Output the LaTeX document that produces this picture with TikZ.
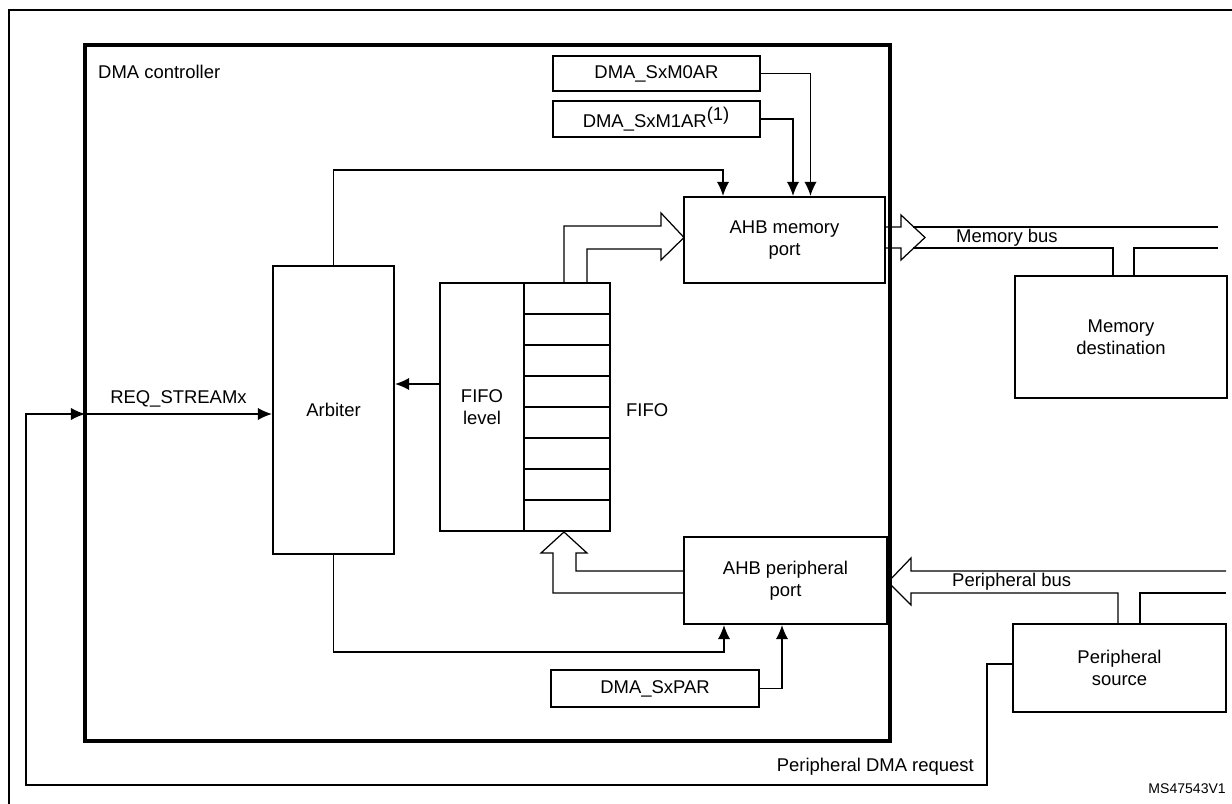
\documentclass[tikz,border=0pt]{standalone}
\usepackage{fontspec}
\setmainfont{Liberation Sans}
\usetikzlibrary{arrows.meta,calc,positioning}

\tikzset{
	blk/.style={draw, line width=1.3pt, align=center, inner sep=0pt},
	sig/.style={line width=0.7pt},
	sigarr/.style={line width=0.7pt, -{Latex[length=8pt,width=7pt]}},
	hollow/.style={line width=0.7pt, line join=miter}
}

\begin{document}
\begin{tikzpicture}[x=0.02cm, y=-0.02cm, font=\fontsize{10.5}{12.5}\selectfont]
	\useasboundingbox (0,0) rectangle (1232,804);
	% outer frame
	\draw[line width=0.8pt] (9,804) -- (9,10) -- (1232,10);
	
	% DMA controller
	\draw[line width=2pt] (85,45) rectangle (890,741);
	\node[anchor=west] (ctrltxt) at (92,72) {DMA controller};
	
	% registers and ports
	\node[blk, minimum width=4.14cm, minimum height=0.7cm] (m0) at (656.5,73.5) {DMA\_SxM0AR};
	\node[blk, minimum width=4.14cm, minimum height=0.72cm] (m1) at (656.5,119) {DMA\_SxM1AR$^{\textrm{(1)}}$};
	\node[blk, minimum width=4.02cm, minimum height=1.72cm] (memport) at (784.5,240) {AHB memory\\port};
	\node[blk, minimum width=4.06cm, minimum height=1.74cm] (perport) at (785.5,580.5) {AHB peripheral\\port};
	\node[blk, minimum width=4.16cm, minimum height=0.74cm] (par) at (655,688.5) {DMA\_SxPAR};
	\node[blk, minimum width=2.42cm, minimum height=5.76cm] (arb) at (333.5,410) {Arbiter};
	
	% FIFO
	\node[blk, minimum width=1.68cm, minimum height=4.96cm] (level) at (482,407) {FIFO\\level};
	\foreach \i in {0,...,7}
		\draw[line width=1.3pt] (524,283+31*\i) rectangle (610,314+31*\i);
	\node[anchor=west] (fifotxt) at (620,410) {FIFO};
	
	% outside
	\node[blk, minimum width=4.24cm, minimum height=2.44cm] (memdst) at (1121,337) {Memory\\destination};
	\node[blk, minimum width=4.26cm, minimum height=1.76cm] (persrc) at (1119.5,668) {Peripheral\\source};
	
	% control lines
	\draw[sigarr] (m0.east) -| ([xshift=0.52cm]memport.north);
	\draw[sigarr] (m1.east) -| ([xshift=0.17cm]memport.north);
	\draw[sigarr] (arb.north) |- (723,170) -- (723,170 |- memport.north);
	\draw[sigarr] (arb.south) |- (724,652) -- (724,652 |- perport.south);
	\draw[sigarr] (par.east) -| (782,652 |- perport.south);
	\draw[sigarr] (level.west |- 0,384) -- (arb.east |- 0,384);
	
	% request
	\coordinate (reqin) at (85,414);
	\draw[sigarr] (persrc.west |- 0,664) -| (987,785) -| (26,414) -- (reqin);
	\draw[sigarr] (reqin) -- node[above] {REQ\_STREAMx} (arb.west |- reqin);
	\node[anchor=south east] (reqtxt) at (980,782) {Peripheral DMA request};
	
	% FIFO to memory port
	\draw[hollow] (564,283) -- (564,226) -- (661,226) -- (661,213) -- (684,237.5)
		-- (661,260) -- (661,249) -- (587,249) -- (587,283);
	% peripheral port to FIFO
	\draw[hollow] (684,593) -- (553,593) -- (553,553) -- (541,553) -- (564,532)
		-- (587,553) -- (576,553) -- (576,571) -- (684,571);
	
	% memory bus
	\draw[hollow] (886,227) -- (901,227) -- (901,215) -- (925,237.5)
		-- (901,260) -- (901,248) -- (886,248);
	\draw[sig] (913,227) -- (1218,227);
	\draw[sig] (913,248) -| (1113,276);
	\draw[sig] (1134,276) |- (1218,248);
	\node[anchor=west] (membus) at (950,238) {Memory bus};
	
	% peripheral bus
	\draw[hollow] (1226,571) -- (911,571) -- (911,558) -- (888,582)
		-- (911,605) -- (911,593) -- (1118,593) -- (1118,624);
	\draw[sig] (1140,624) |- (1226,593);
	\node[anchor=west] (perbus) at (946,582) {Peripheral bus};
	
	\node[anchor=south east, font=\fontsize{8}{9}\selectfont] (ref) at (1232,800) {MS47543V1};
\end{tikzpicture}
\end{document}
